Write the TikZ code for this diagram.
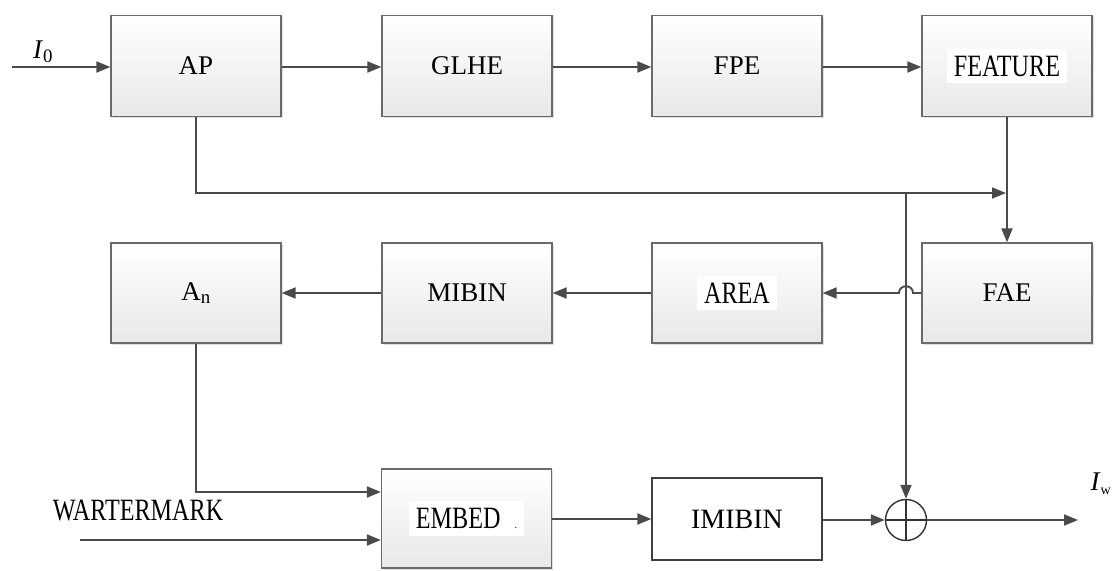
\documentclass[tikz,border=0pt]{standalone}
\usepackage{fontspec}
\setmainfont{Liberation Serif}
\usetikzlibrary{arrows.meta,shadows}
\newcommand\condtext[1]{\scalebox{0.78}[1]{\fontsize{31}{31}\selectfont #1}}
\newcommand\whitepatch[1]{\setlength{\fboxsep}{7pt}\colorbox{white}{#1}}
\definecolor{linegray}{HTML}{4A4A4A}
\definecolor{boxgray}{HTML}{6A6A6A}
\tikzset{
  blk/.style={draw=boxgray, line width=1.3pt, top color=white, bottom color=black!9,
    minimum width=170pt, minimum height=101pt, inner sep=0pt,
    font=\fontsize{27}{30}\selectfont,
    drop shadow={shadow xshift=1.5pt, shadow yshift=-1.5pt, opacity=0.25}},
  plainblk/.style={draw=black!75, line width=1.3pt, fill=white,
    minimum width=170pt, minimum height=82pt, inner sep=0pt,
    font=\fontsize{28}{30}\selectfont},
  conn/.style={draw=linegray, line width=1.9pt,
    -{Triangle[length=14pt,width=11pt]}},
  lbl/.style={inner sep=0pt, font=\fontsize{27}{30}\selectfont}
}
\begin{document}
\begin{tikzpicture}[x=1pt,y=-1pt]
\useasboundingbox (0,0) rectangle (1113,570);
% row 1
\node[blk] (AP) at (196,66) {AP};
\node[blk] (GLHE) at (467,66) {GLHE};
\node[blk] (FPE) at (737,66) {FPE};
\node[blk] (FEAT) at (1007,66) {\whitepatch{\condtext{FEATURE}}};
% row 2
\node[blk, minimum height=100pt] (An) at (196,293) {A\textsubscript{n}};
\node[blk, minimum height=100pt] (MIBIN) at (467,293) {MIBIN};
\node[blk, minimum height=100pt] (AREA) at (737,293) {\whitepatch{\condtext{AREA}}};
\node[blk, minimum height=100pt] (FAE) at (1007,293) {FAE};
% row 3
\node[blk, minimum height=99pt] (EMBED) at (466.5,518.5) {\whitepatch{\condtext{EMBED}\hspace{14pt}{\fontsize{10}{10}\selectfont .}}};
\node[plainblk] (IMIBIN) at (737,519) {IMIBIN};
\node[draw=black!80, line width=1.4pt, circle, minimum size=41pt, inner sep=0pt] (sum) at (906,520) {};
\draw[black!80, line width=1.2pt] (sum.north) -- (sum.south) (sum.west) -- (sum.east);
% labels
\node[lbl] (I0) at (43,52) {\textit{I}\textsubscript{0}};
\node[lbl] (Iw) at (1101,484) {\textit{I}\textsubscript{\fontsize{14}{14}\selectfont w}};
\node[inner sep=0pt] (WM) at (138,510) {\condtext{WARTERMARK}};
% coordinates
\coordinate (in0) at (12,67);
\coordinate (j1) at (1007,193);
\coordinate (j2) at (906,193);
\coordinate (w0) at (80,540);
\coordinate (out) at (1078,520);
\coordinate (bumpR) at (913,293);
\coordinate (bumpL) at (899,293);
% connectors row 1
\draw[conn] (in0) -- (AP.west |- in0);
\draw[conn] (AP.east |- in0) -- (GLHE.west |- in0);
\draw[conn] (GLHE.east |- in0) -- (FPE.west |- in0);
\draw[conn] (FPE.east |- in0) -- (FEAT.west |- in0);
% AP feedback
\draw[conn] (AP.south) |- ([xshift=-1pt]j1);
\draw[conn] (FEAT.south) -- (FAE.north);
% vertical to sum
\draw[conn] (j2) -- (sum.north);
% FAE -> AREA with jump
\draw[conn] (FAE.west) -- (bumpR) .. controls ([yshift=9pt]bumpR) and ([yshift=9pt]bumpL) .. (bumpL) -- (AREA.east);
\draw[conn] (AREA.west) -- (MIBIN.east);
\draw[conn] (MIBIN.west) -- (An.east);
% An -> EMBED
\draw[conn] (An.south) |- ([yshift=26.5pt]EMBED.west);
\draw[conn] (w0) -- ([yshift=-21.5pt]EMBED.west);
\draw[conn] (EMBED.east |- IMIBIN.west) -- (IMIBIN.west);
\draw[conn] (IMIBIN.east |- sum.west) -- (sum.west);
\draw[conn] (sum.east) -- (out);
\end{tikzpicture}
\end{document}
